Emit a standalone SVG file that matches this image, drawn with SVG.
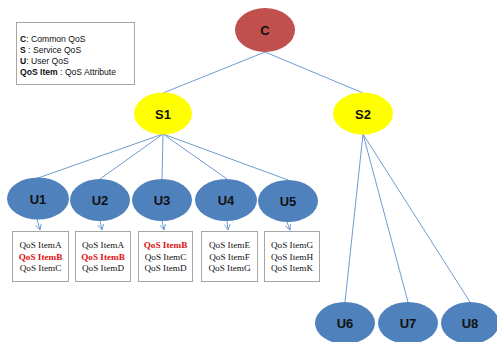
<svg xmlns="http://www.w3.org/2000/svg" width="497" height="342" viewBox="0 0 497 342">
<style>
.ln{stroke:#6f9bd0;stroke-width:1;fill:none}
.ar{stroke:#6f9bd0;stroke-width:1;fill:none;marker-end:url(#ah)}
.u{fill:#4f81bd}
.nt{font-family:"Liberation Sans",Arial,sans-serif;font-weight:bold;font-size:13px;fill:#111;text-anchor:middle}
.bx{fill:#fff;stroke:#a6a6a6;stroke-width:1}
.it{font-family:"Liberation Serif","Times New Roman",serif;font-size:9.2px;fill:#111;text-anchor:middle}
.red{fill:#e01010;font-weight:bold}
.lg{font-family:"Liberation Sans",Arial,sans-serif;font-size:8.6px;fill:#111}
</style>
<defs>
<marker id="ah" viewBox="0 0 10 10" refX="9" refY="5" markerWidth="7" markerHeight="7" orient="auto" markerUnits="userSpaceOnUse">
<path d="M1,1 L9,5 L1,9" fill="none" stroke="#6f9bd0" stroke-width="1.3"/>
</marker>
</defs>
<rect width="497" height="342" fill="#fff"/>
<g id="legend">
<rect class="bx" x="16.5" y="22.5" width="118" height="62"/>
<text class="lg" x="20" y="42"><tspan font-weight="bold">C</tspan>: Common QoS</text>
<text class="lg" x="20" y="53"><tspan font-weight="bold">S</tspan> : Service QoS</text>
<text class="lg" x="20" y="64"><tspan font-weight="bold">U</tspan>: User QoS</text>
<text class="lg" x="20" y="75"><tspan font-weight="bold">QoS Item</tspan> : QoS Attribute</text>
</g>
<g id="connectors">
<line class="ln" x1="265" y1="52" x2="163" y2="93"/>
<line class="ln" x1="265" y1="52" x2="363" y2="93"/>
<line class="ln" x1="163" y1="134" x2="38" y2="178"/>
<line class="ln" x1="163" y1="134" x2="100" y2="179"/>
<line class="ln" x1="163" y1="134" x2="162" y2="179"/>
<line class="ln" x1="163" y1="134" x2="227" y2="179"/>
<line class="ln" x1="163" y1="134" x2="288" y2="180"/>
<line class="ln" x1="363" y1="134" x2="345" y2="302"/>
<line class="ln" x1="363" y1="134" x2="408" y2="302"/>
<line class="ln" x1="363" y1="134" x2="470" y2="302"/>
<line class="ar" x1="37" y1="219" x2="40" y2="230"/>
<line class="ar" x1="100" y1="221" x2="102" y2="230"/>
<line class="ar" x1="162" y1="221" x2="164" y2="230"/>
<line class="ar" x1="227" y1="221" x2="228" y2="230"/>
<line class="ar" x1="287" y1="222" x2="290" y2="230"/>
</g>
<g id="C"><ellipse cx="265" cy="30" rx="30" ry="22" fill="#c0504d"/><text class="nt" x="265" y="35">C</text></g>
<g id="S1"><ellipse cx="163" cy="113.5" rx="29" ry="21" fill="#ffff00"/><text class="nt" x="163" y="118.5">S1</text></g>
<g id="S2"><ellipse cx="363" cy="113.5" rx="30" ry="21" fill="#ffff00"/><text class="nt" x="363" y="118.5">S2</text></g>
<g id="U1"><ellipse class="u" cx="38" cy="198.5" rx="31" ry="21"/><text class="nt" x="38" y="203.5">U1</text></g>
<g id="U2"><ellipse class="u" cx="100" cy="200" rx="30" ry="21"/><text class="nt" x="100" y="205">U2</text></g>
<g id="U3"><ellipse class="u" cx="162" cy="200" rx="30" ry="21"/><text class="nt" x="162" y="205">U3</text></g>
<g id="U4"><ellipse class="u" cx="226" cy="200" rx="31" ry="21"/><text class="nt" x="226" y="205">U4</text></g>
<g id="U5"><ellipse class="u" cx="288" cy="201" rx="30" ry="21"/><text class="nt" x="288" y="206">U5</text></g>
<g id="U6"><ellipse class="u" cx="345" cy="323" rx="30" ry="21"/><text class="nt" x="345" y="328">U6</text></g>
<g id="U7"><ellipse class="u" cx="408" cy="323" rx="30" ry="21"/><text class="nt" x="408" y="328">U7</text></g>
<g id="U8"><ellipse class="u" cx="470" cy="323" rx="29" ry="21"/><text class="nt" x="470" y="328">U8</text></g>
<g id="box1"><rect class="bx" x="12.5" y="231.5" width="56" height="50"/>
<text class="it" x="40.5" y="248">QoS ItemA</text><text class="it red" x="40.5" y="259.5">QoS ItemB</text><text class="it" x="40.5" y="271">QoS ItemC</text></g>
<g id="box2"><rect class="bx" x="75.5" y="231.5" width="55" height="50"/>
<text class="it" x="103" y="248">QoS ItemA</text><text class="it red" x="103" y="259.5">QoS ItemB</text><text class="it" x="103" y="271">QoS ItemD</text></g>
<g id="box3"><rect class="bx" x="138.5" y="231.5" width="54" height="50"/>
<text class="it red" x="165.5" y="248">QoS ItemB</text><text class="it" x="165.5" y="259.5">QoS ItemC</text><text class="it" x="165.5" y="271">QoS ItemD</text></g>
<g id="box4"><rect class="bx" x="201.5" y="231.5" width="56" height="50"/>
<text class="it" x="229.5" y="248">QoS ItemE</text><text class="it" x="229.5" y="259.5">QoS ItemF</text><text class="it" x="229.5" y="271">QoS ItemG</text></g>
<g id="box5"><rect class="bx" x="264.5" y="231.5" width="55" height="50"/>
<text class="it" x="292" y="248">QoS ItemG</text><text class="it" x="292" y="259.5">QoS ItemH</text><text class="it" x="292" y="271">QoS ItemK</text></g>
</svg>
